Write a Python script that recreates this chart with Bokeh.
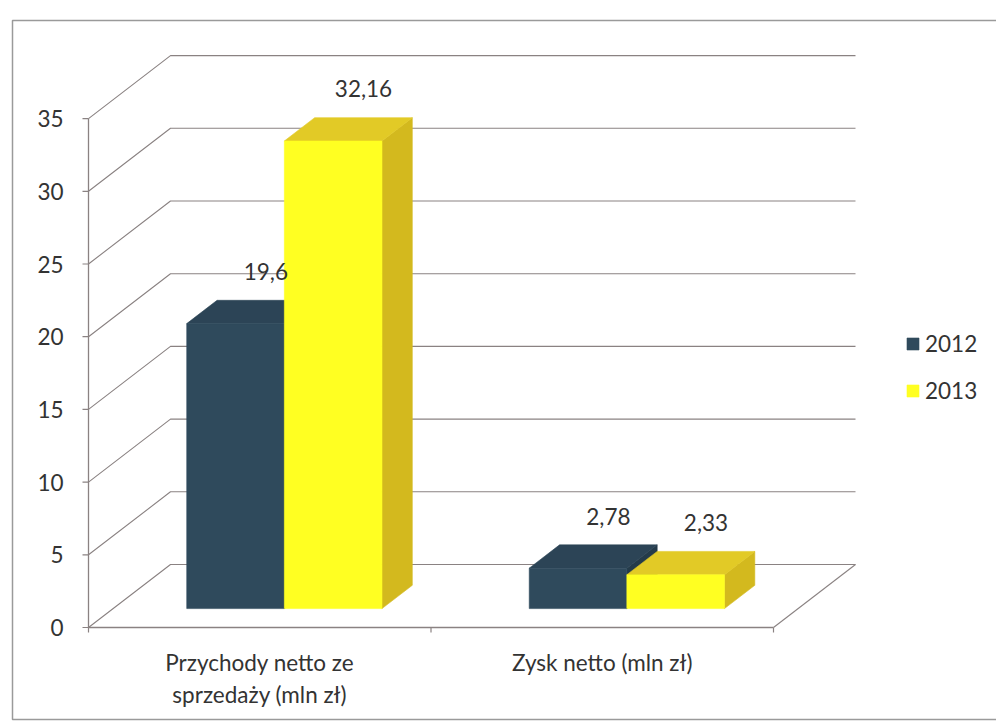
from bokeh.plotting import figure
from bokeh.models import Range1d, Legend, LegendItem, ColumnDataSource
from bokeh.embed import file_html
from bokeh.resources import INLINE
from bokeh.core.properties import value

# ---------------- data ----------------
categories = ["Przychody netto ze\nsprzedaży (mln zł)", "Zysk netto (mln zł)"]
series_names = ["2012", "2013"]
values_2012 = [19.6, 2.78]
values_2013 = [32.16, 2.33]
labels_2012 = ["19,6", "2,78"]
labels_2013 = ["32,16", "2,33"]
y_ticks = [0, 5, 10, 15, 20, 25, 30, 35]
y_tick_labels = ["0", "5", "10", "15", "20", "25", "30", "35"]

series_values = [values_2012, values_2013]
series_labels = [labels_2012, labels_2013]

# ---------------- layout / style ----------------
W, H = 996, 721
PX_CAT = 342.5      # px per category (front plane)
PX_UNIT = 14.54     # px per value unit
AXIS_X = 88         # frame px of the front value axis
ZERO_Y = 627        # frame px (from top) of value 0 on front plane

DX = 82 / PX_CAT    # depth offset (x, category units)
DY = 63 / PX_UNIT   # depth offset (y, value units)
T0, T1 = 0.30, 0.67 # bar depth span (fraction of floor depth)
GW = 0.57           # group width (category units)

FONT = "Lato"
FS = "22.5px"
TXT = "#333333"
GRID = "#8a8282"

front_col = ["#2f4a5c", "#ffff22"]
top_col = ["#2c4456", "#e2ca26"]
side_col = ["#253b4a", "#d3b91e"]


def sx(px):
    return (px - AXIS_X) / PX_CAT


def sy(py):
    return (ZERO_Y - py) / PX_UNIT


def P(u, v, t):
    return u + t * DX, v + t * DY


n_cat = len(categories)
p = figure(width=W, height=H,
           x_range=Range1d(sx(0), sx(W)), y_range=Range1d(sy(H), sy(0)),
           output_backend="svg", toolbar_location=None, min_border=0,
           x_axis_location=None, y_axis_location=None)
p.grid.visible = False
p.outline_line_color = None
p.background_fill_color = "white"

# outer chart border (left, top, bottom)
p.line([sx(W + 5), sx(12), sx(12), sx(W + 5)], [sy(20), sy(20), sy(H - 2), sy(H - 2)],
       line_color="#9a9a9a", line_width=1.5)

# back wall / side wall gridlines
gx, gy = [], []
for v in y_ticks:
    gx.append([0, DX, n_cat + DX])
    gy.append([v, v + DY, v + DY])
gx.append([n_cat, n_cat + DX])
gy.append([0, DY])
p.multi_line(gx, gy, line_color=GRID, line_width=1.1)

# front axes
p.line([0, 0], [0, max(y_ticks)], line_color=GRID, line_width=1.3)
p.line([0, n_cat], [0, 0], line_color=GRID, line_width=1.5)
tx, ty = [], []
for v in y_ticks:
    tx.append([sx(AXIS_X - 6), 0])
    ty.append([v, v])
for c in range(n_cat + 1):
    tx.append([c, c])
    ty.append([0, -5 / PX_UNIT])
p.multi_line(tx, ty, line_color=GRID, line_width=1.2)

# value axis tick labels
p.text(x=[sx(AXIS_X - 25)] * len(y_ticks), y=y_ticks, text=y_tick_labels,
       text_align="right", text_baseline="middle", text_font=value(FONT),
       text_font_size=FS, text_color=TXT)

# 3D bars
xs, ys, cols = [], [], []
front_index = {}
lx, ly, lt = [], [], []
for c in range(n_cat):
    for i, vals in enumerate(series_values):
        v = vals[c]
        u0 = c + 0.5 - GW / 2 + i * GW / 2
        u1 = u0 + GW / 2
        # side face
        pts = [P(u1, 0, T0), P(u1, v, T0), P(u1, v, T1), P(u1, 0, T1)]
        xs.append([q[0] for q in pts]); ys.append([q[1] for q in pts]); cols.append(side_col[i])
        # top face
        pts = [P(u0, v, T0), P(u1, v, T0), P(u1, v, T1), P(u0, v, T1)]
        xs.append([q[0] for q in pts]); ys.append([q[1] for q in pts]); cols.append(top_col[i])
        # front face
        pts = [P(u0, 0, T0), P(u1, 0, T0), P(u1, v, T0), P(u0, v, T0)]
        xs.append([q[0] for q in pts]); ys.append([q[1] for q in pts]); cols.append(front_col[i])
        front_index.setdefault(i, len(xs) - 1)
        bx, by = P((u0 + u1) / 2, v, T1)
        lx.append(bx); ly.append(by + 1.4); lt.append(series_labels[i][c])

src = ColumnDataSource(dict(xs=xs, ys=ys, color=cols))
bars = p.patches("xs", "ys", source=src, fill_color="color", line_color="color", line_width=0.6)

# data labels
p.text(x=lx, y=ly, text=lt, text_align="center", text_baseline="bottom",
       text_font=value(FONT), text_font_size=FS, text_color=TXT)

# category labels
p.text(x=[c + 0.5 for c in range(n_cat)], y=[sy(ZERO_Y + 21)] * n_cat, text=categories,
       text_align="center", text_baseline="top", text_font=value(FONT),
       text_font_size=FS, text_color=TXT, text_line_height=1.2)

# legend
legend = Legend(items=[LegendItem(label=series_names[i], renderers=[bars], index=front_index[i])
                       for i in range(len(series_names))],
                location=(905, 317), orientation="vertical",
                glyph_width=15, glyph_height=15, label_height=27, spacing=20,
                label_standoff=5, padding=0, margin=0,
                label_text_font=FONT, label_text_font_size=FS, label_text_color=TXT,
                border_line_alpha=0, background_fill_alpha=0)
p.add_layout(legend)

open("out.html", "w").write(file_html(p, INLINE))
